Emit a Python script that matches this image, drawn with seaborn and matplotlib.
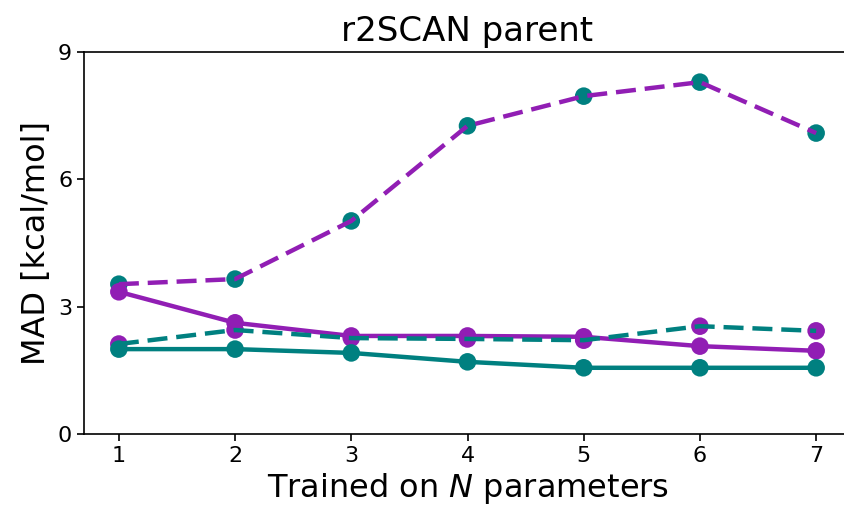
import matplotlib
matplotlib.use("Agg")
import matplotlib.pyplot as plt
import seaborn as sns
import pandas as pd

# Number of trained parameters
n_params = [1, 2, 3, 4, 5, 6, 7]

# MAD values (kcal/mol) for each model variant
purple_dashed = [3.53, 3.65, 5.02, 7.26, 7.96, 8.29, 7.09]
purple_solid = [3.35, 2.62, 2.31, 2.31, 2.29, 2.07, 1.96]
teal_dashed = [2.12, 2.45, 2.26, 2.24, 2.21, 2.54, 2.43]
teal_solid = [2.00, 2.00, 1.91, 1.70, 1.56, 1.56, 1.56]

y_ticks = [0, 3, 6, 9]

PURPLE = "#911eb4"
TEAL = "#008080"

sns.set_style("ticks", rc={
    "text.color": "black",
    "axes.labelcolor": "black",
    "axes.edgecolor": "black",
    "xtick.color": "black",
    "ytick.color": "black",
})
plt.rcParams["font.family"] = ["DejaVu Sans"]

fig = plt.figure(figsize=(8.44, 5.14), dpi=100)
ax = fig.add_axes([84 / 844, 80 / 514, 767 / 844, 382 / 514])

# (values, line colour, marker colour, linestyle)
series = [
    (purple_dashed, PURPLE, TEAL, "--"),
    (purple_solid, PURPLE, PURPLE, "-"),
    (teal_dashed, TEAL, PURPLE, "--"),
    (teal_solid, TEAL, TEAL, "-"),
]

# markers underneath, lines on top
for vals, lc, mc, ls in series:
    df = pd.DataFrame({"N": n_params, "MAD": vals})
    sns.scatterplot(data=df, x="N", y="MAD", color=mc, s=160,
                    edgecolor="none", ax=ax, zorder=2)
for vals, lc, mc, ls in series:
    df = pd.DataFrame({"N": n_params, "MAD": vals})
    line = sns.lineplot(data=df, x="N", y="MAD", color=lc,
                        linewidth=3.2, ax=ax, zorder=3).lines[-1]
    if ls == "--":
        line.set_dashes((4.5, 2.0))

ax.set_xlim(0.7, 7.3)
ax.set_ylim(0, 9)
ax.set_xticks(n_params)
ax.set_yticks(y_ticks)
ax.tick_params(labelsize=16, width=1.2, length=5)
for s in ax.spines.values():
    s.set_linewidth(1.2)
ax.spines["right"].set_visible(False)

ax.set_title("r2SCAN parent", fontsize=24.5, pad=8)
ax.set_xlabel("Trained on $N$ parameters", fontsize=23)
ax.set_ylabel("MAD [kcal/mol]", fontsize=23)

fig.savefig("out.png", dpi=100)
